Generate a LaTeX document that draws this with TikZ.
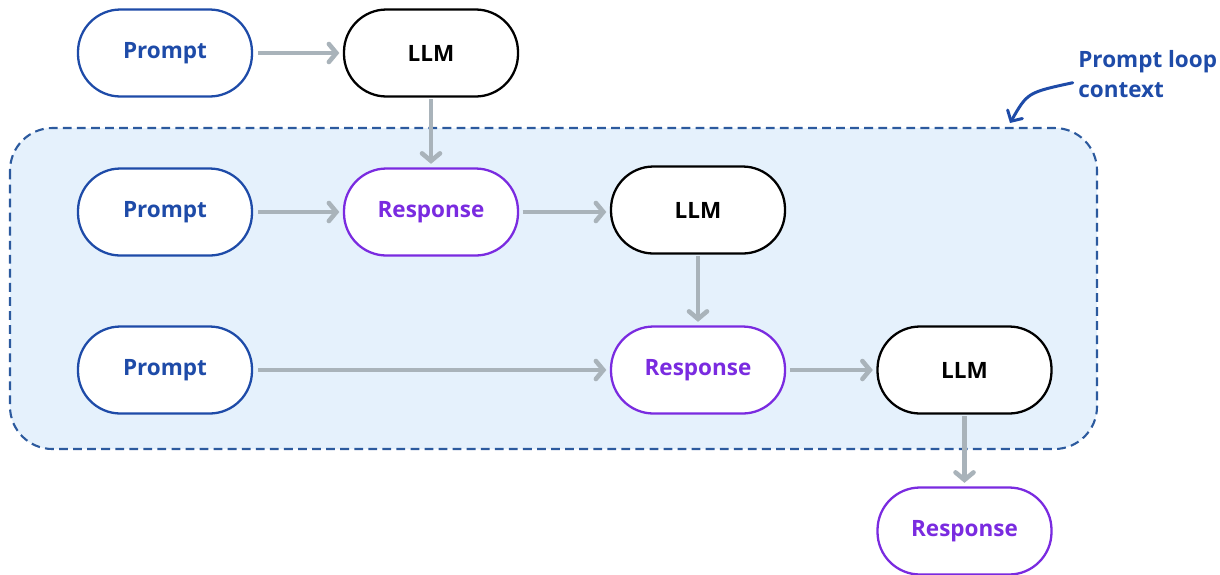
\documentclass[tikz,border=0pt]{standalone}
\usepackage{fontspec}
\setmainfont{Open Sans}
\usetikzlibrary{arrows.meta}
\definecolor{promptblue}{HTML}{1E4BA8}
\definecolor{respviolet}{HTML}{7A2BE0}
\definecolor{flowgray}{HTML}{A9B3BA}
\definecolor{loopfill}{HTML}{E5F1FC}
\definecolor{loopline}{HTML}{2C5A9E}
\begin{document}
\begin{tikzpicture}[font=\bfseries\fontsize{12.8}{15}\selectfont,
  pill/.style={draw,fill=white,line width=1.3pt,rounded corners=0.85cm,
    minimum width=3.48cm,minimum height=1.74cm,inner sep=0pt},
  prompt/.style={pill,draw=promptblue,text=promptblue},
  llm/.style={pill,draw=black,text=black},
  response/.style={pill,draw=respviolet,text=respviolet},
  flow/.style={draw=flowgray,line width=2.6pt,
    -{Straight Barb[length=1.5mm,width=3.6mm,line cap=round]}}]
\useasboundingbox (0,0) rectangle (24.4,-11.48);
% loop context box
\draw[loopline,fill=loopfill,line width=1.2pt,dash pattern=on 5pt off 3pt,
  rounded corners=0.85cm] (0.2,-2.56) rectangle (21.94,-8.98);
% first row
\node[prompt] (p1) at (3.3,-1.06) {Prompt};
\node[llm] (l1) at (8.62,-1.06) {LLM};
% second row
\node[prompt] (p2) at (3.3,-4.24) {Prompt};
\node[response] (r2) at (8.62,-4.24) {Response};
\node[llm] (l2) at (13.96,-4.2) {LLM};
% third row
\node[prompt] (p3) at (3.3,-7.4) {Prompt};
\node[response] (r3) at (13.96,-7.4) {Response};
\node[llm] (l3) at (19.29,-7.4) {LLM};
% last response
\node[response] (r4) at (19.29,-10.62) {Response};
% connectors
\draw[flow] ([xshift=3pt]p1.east)--([xshift=-2pt]l1.west);
\draw[flow] ([yshift=-1pt]l1.south)--([yshift=2pt]r2.north);
\draw[flow] ([xshift=3pt]p2.east)--([xshift=-2pt]r2.west);
\draw[flow] ([xshift=2pt]r2.east)--([xshift=-2pt]r2.east-|l2.west);
\draw[flow] ([yshift=-1pt]l2.south)--([yshift=2pt]r3.north);
\draw[flow] ([xshift=3pt]p3.east)--([xshift=-2pt]r3.west);
\draw[flow] ([xshift=2pt]r3.east)--([xshift=-2pt]l3.west);
\draw[flow] ([yshift=-1pt]l3.south)--([yshift=2pt]r4.north);
% annotation
\node[anchor=north west,align=left,text=promptblue,inner sep=0pt,
  font=\bfseries\fontsize{12.8}{17}\selectfont] (note) at (21.56,-1.0) {Prompt loop\\context};
\coordinate (tip) at (20.2,-2.46);
\draw[promptblue,line width=1.7pt,line cap=round,
  -{Straight Barb[length=1.6mm,width=3.4mm,line cap=round]}]
  ([xshift=-3pt,yshift=-5pt]note.west) .. controls (20.55,-1.85) .. (tip);
\end{tikzpicture}
\end{document}
